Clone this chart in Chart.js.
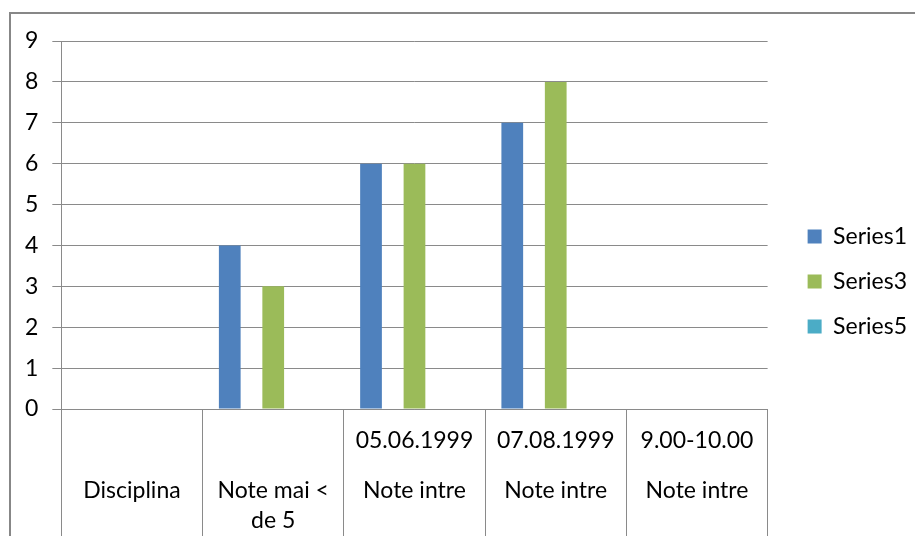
<!DOCTYPE html>
<html>
<head>
<meta charset="utf-8">
<script src="https://cdn.jsdelivr.net/npm/chart.js@4.4.1/dist/chart.umd.min.js"></script>
<style>
  html, body { margin: 0; padding: 0; background: #fff; overflow: hidden; }
  #wrap { position: relative; width: 915px; height: 536px; }
  #frame { position: absolute; left: 9px; top: 12px; width: 1000px; height: 1000px;
           border-left: 2px solid #878787; border-top: 2px solid #878787; pointer-events: none; }
  canvas { position: absolute; left: 0; top: 0; }
</style>
</head>
<body>
<div id="wrap">
  <canvas id="c" width="915" height="536"></canvas>
  <div id="frame"></div>
</div>
<script>
// ---- data ----
const categoryTop  = ["", "", "05.06.1999", "07.08.1999", "9.00-10.00"];
const categoryMain = ["Disciplina", "Note mai <", "Note intre", "Note intre", "Note intre"];
const categorySub  = ["", "de 5", "", "", ""];
const seriesNames  = ["Series1", "Series2", "Series3", "Series4", "Series5"];
const series1 = [null, 4, 6, 7, null];
const series2 = [null, null, null, null, null];
const series3 = [null, 3, 6, 8, null];
const series4 = [null, null, null, null, null];
const series5 = [null, null, null, null, null];
const legendSeries = ["Series1", "Series3", "Series5"];
const yMin = 0, yMax = 9, yStep = 1;

// ---- build ----
const labels = categoryTop.map((t, i) => {
  const lines = new Array(9).fill("");
  lines[0] = t;
  lines[5] = categoryMain[i];
  lines[8] = categorySub[i];
  return lines;
});
const colors = ["#4F81BD", "#C0504D", "#9BBB59", "#8064A2", "#4BACC6"];
const seriesData = [series1, series2, series3, series4, series5];

Chart.defaults.font.family = "Lato";
Chart.defaults.color = "#000";

const gridColor = "#8a8a8a";

new Chart(document.getElementById("c"), {
  type: "bar",
  data: {
    labels: labels,
    datasets: seriesNames.map((n, i) => ({
      label: n,
      data: seriesData[i],
      backgroundColor: colors[i],
      borderWidth: 0,
      barPercentage: 1,
      categoryPercentage: 5 / 6.5
    }))
  },
  options: {
    responsive: false,
    animation: false,
    layout: { padding: { left: 11, top: 27, right: -2, bottom: 0 } },
    plugins: {
      tooltip: { enabled: false },
      legend: {
        position: "right",
        align: "center",
        labels: {
          filter: (item) => legendSeries.includes(item.text),
          boxWidth: 14,
          boxHeight: 14,
          padding: 22,
          font: { size: 23 },
          color: "#000"
        }
      }
    },
    scales: {
      x: {
        offset: true,
        grid: {
          offset: true,
          drawOnChartArea: false,
          drawTicks: true,
          tickLength: 140,
          color: gridColor,
          lineWidth: 1
        },
        border: { color: gridColor },
        ticks: {
          padding: -113,
          maxRotation: 0,
          autoSkip: false,
          font: { size: 23, lineHeight: "10px" },
          color: "#000"
        },
        afterFit: (s) => { s.height = 127; }
      },
      y: {
        min: yMin,
        max: yMax,
        ticks: { stepSize: yStep, padding: 14, font: { size: 23 }, color: "#000" },
        grid: { color: gridColor, tickLength: 9, lineWidth: 1 },
        border: { color: gridColor }
      },
      spacerRight: {
        type: "linear",
        position: "right",
        display: true,
        grid: { display: false, drawTicks: false },
        ticks: { display: false },
        border: { display: false },
        afterFit: (s) => { s.width = 18; }
      },
      spacerTop: {
        type: "linear",
        position: "top",
        display: true,
        grid: { display: false, drawTicks: false },
        ticks: { display: false },
        border: { display: false },
        afterFit: (s) => { s.height = 14; }
      }
    }
  }
});
</script>
</body>
</html>
